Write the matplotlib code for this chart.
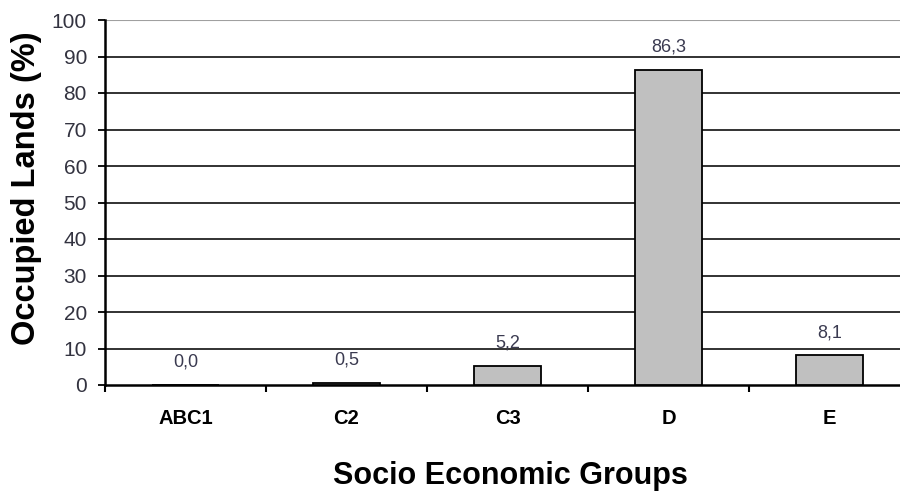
import numpy as np
import matplotlib.pyplot as plt

groups = ['ABC1', 'C2', 'C3', 'D', 'E']
occupied = [0.0, 0.5, 5.2, 86.3, 8.1]
yticks = [0, 10, 20, 30, 40, 50, 60, 70, 80, 90, 100]

plt.rcParams['font.family'] = ['Liberation Sans', 'DejaVu Sans']

fig = plt.figure(figsize=(9, 4.93), dpi=100)
ax = fig.add_axes([105 / 900, 1 - 385 / 493, 805 / 900, 365 / 493])

x = np.arange(len(groups))
ax.bar(x, occupied, width=0.41, color='#c0c0c0', edgecolor='black',
       linewidth=1.3, zorder=3)

for xi, v in zip(x, occupied):
    ax.annotate(('%.1f' % v).replace('.', ','), (xi, v), xytext=(0, 16.5),
                textcoords='offset points', ha='center', va='center',
                fontsize=13, color='#3a3a50')

ax.set_xlim(-0.5, len(groups) - 0.5)
ax.set_ylim(0, 100)
ax.set_yticks(yticks)
for t in yticks[1:-1]:
    ax.axhline(t, color='#222222', linewidth=1.3, zorder=1)
ax.axhline(100, color='#a0a0a0', linewidth=1.5, zorder=1)

ax.set_xticks(x)
ax.set_xticklabels(groups, fontsize=14.5, fontweight='bold')
ax.set_xticks(np.arange(-0.5, len(groups), 1.0), minor=True)
ax.tick_params(axis='x', which='major', length=0, pad=17)
ax.tick_params(axis='x', which='minor', length=5, width=1.5, direction='out')
ax.tick_params(axis='y', length=5, width=1.3, labelsize=15,
               labelcolor='#333340', pad=8)

for s in ['top', 'right']:
    ax.spines[s].set_visible(False)
ax.spines['left'].set_linewidth(1.8)
ax.spines['bottom'].set_linewidth(1.8)

ax.set_ylabel('Occupied Lands (%)', fontsize=23.5, fontweight='bold')
ax.yaxis.set_label_coords(-105 / 805 + 27 / 805, (385 - 188) / 365)
ax.set_xlabel('Socio Economic Groups', fontsize=22, fontweight='bold')
ax.xaxis.set_label_coords((510 - 105) / 805, -(476 - 385) / 365)
ax.xaxis.label.set_va('center')
ax.yaxis.label.set_va('center')

plt.savefig('out.png', dpi=100)
